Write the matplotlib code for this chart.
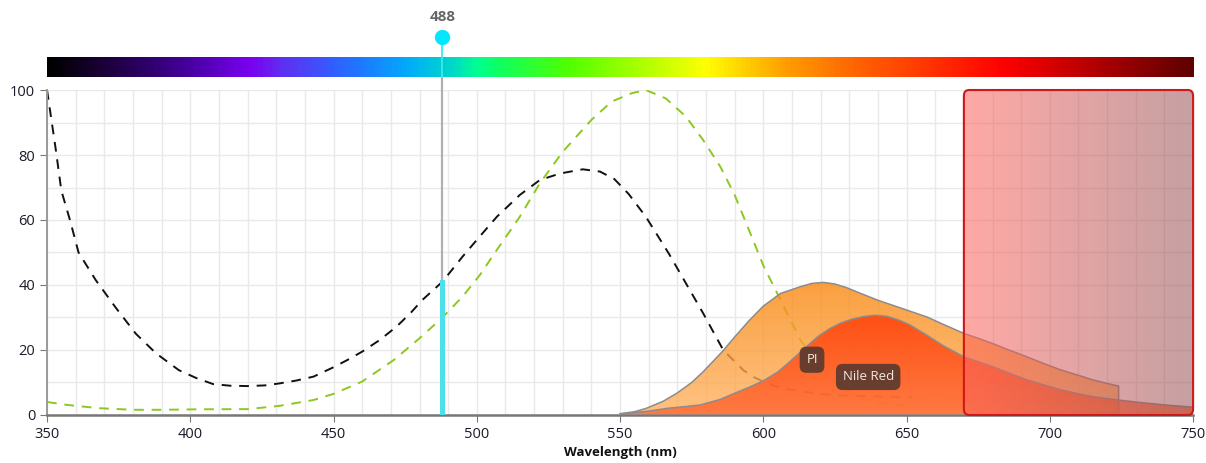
import matplotlib
matplotlib.use("Agg")
import matplotlib.pyplot as plt
import numpy as np
from matplotlib.colors import LinearSegmentedColormap
from matplotlib.patches import Polygon, FancyBboxPatch

plt.rcParams['font.family'] = ['Open Sans', 'DejaVu Sans']

# excitation spectra (dashed)
pi_ex_nm = [350, 352, 353, 355, 358, 361, 367, 374, 381, 388, 396, 402, 408, 414, 420, 426,
            431, 437, 443, 450, 455, 460, 466, 472, 477, 481, 488, 495, 501, 507, 515, 522,
            529, 537, 543, 548, 553, 559, 567, 573, 579, 586, 593, 597, 602, 607, 612, 618, 624,
            630, 640, 648, 652]
pi_ex = [100, 88, 82, 69, 60, 50, 41.5, 33, 25, 19, 13.8, 11.4, 9.5, 9.0, 8.9, 9.1,
         9.7, 10.6, 11.8, 14.7, 17, 19.5, 23, 27.2, 31.5, 35.4, 41, 48.7, 54.9, 61, 67.7, 72.3,
         74.3, 75.6, 74.9, 72.6, 68, 61, 49.7, 40.5, 31.3, 20, 13.8, 11.5, 9.5, 8.2, 7.4, 6.7, 6.2,
         5.9, 5.7, 5.6, 5.6]

nr_ex_nm = [350, 357, 368, 380, 390, 403, 420, 431, 443, 450, 460, 471, 480, 488, 495, 501,
            507, 515, 522, 530, 540, 547, 554, 559, 566, 573, 579, 585, 590, 595, 600, 606, 613, 620,
            627, 634, 643, 650]
nr_ex = [4, 3.1, 2.1, 1.6, 1.6, 1.75, 1.8, 2.8, 4.6, 6.5, 10.3, 16.9, 23.6, 30, 36.4, 43,
         50.8, 61, 71.3, 81, 90.8, 96.4, 99, 100, 97.4, 91.8, 84.6, 76.4, 67.7, 56.9, 46, 35.4, 23, 14.9,
         8.7, 5.1, 3.4, 2.8]

# emission spectra (filled)
pi_em_nm = [550, 555, 559, 565, 570, 575, 579, 583, 586, 590, 595, 600, 606, 613, 617, 621, 625,
            629, 634, 640, 645, 651, 657, 663, 670, 675, 680, 686, 692, 698, 704, 710, 715, 720, 724]
pi_em = [0.4, 1, 2, 4.2, 6.8, 10, 13.3, 17, 19.8, 24, 29, 33.5, 37.4, 39.5, 40.5, 40.8, 40.3,
         39.2, 37.4, 35.3, 33.8, 32, 30.2, 27.8, 25.1, 23.6, 22, 19.9, 17.9, 15.8, 13.8, 12.2, 10.8, 9.7, 8.9]

nr_em_nm = [550, 560, 567, 573, 578, 585, 590, 595, 600, 605, 609, 614, 619, 623, 627, 631, 635,
            639, 643, 647, 651, 657, 663, 670, 675, 680, 686, 692, 698, 704, 710, 715, 724, 731, 740, 750]
nr_em = [0.3, 1.2, 2.1, 2.6, 3.1, 4.8, 6.7, 8.5, 10.5, 13.2, 16.2, 20.2, 24.1, 26.5, 28.3, 29.5, 30.3,
         30.7, 30.4, 29.3, 27.8, 24.6, 21.2, 17.9, 16.4, 14.9, 12.8, 10.8, 9.2, 7.7, 6.5, 5.6, 4.6, 3.9, 3.1, 2.4]

laser_nm = 488
laser_top = 41
filter_range = (670, 750)

spec_nm = [350, 368, 386, 403, 420, 432, 450, 467, 477, 491, 500, 508, 532, 580, 607, 634, 652, 684, 750]
spec_col = ['#000000', '#1a0035', '#300070', '#5000b0', '#7a00f0', '#6030f0', '#3060ff', '#1090ff',
            '#00b0f8', '#00d8c8', '#00ff90', '#10ff60', '#50ff00', '#ffff00', '#ffa000', '#ff6000',
            '#ff4000', '#ff0000', '#600000']

fig = plt.figure(figsize=(12.06, 4.63), dpi=100)
ax = fig.add_axes([0.039, 0.1037, 0.9503, 0.7019])
cax = fig.add_axes([0.039, 0.8337, 0.9503, 0.0432])
ax.set_zorder(2)
ax.patch.set_alpha(0)

# spectrum bar
spec_cmap = LinearSegmentedColormap.from_list(
    'spec', list(zip([(n - 350) / 400 for n in spec_nm], spec_col)))
cax.imshow(np.linspace(350, 750, 1000)[None, :], extent=[350, 750, 0, 1], aspect='auto',
           cmap=spec_cmap, vmin=350, vmax=750)
cax.set_xlim(350, 750)
cax.axis('off')


def gradient_fill(x, y, c_bottom, c_top, alpha, z):
    verts = [(x[0], 0)] + list(zip(x, y)) + [(x[-1], 0)]
    poly = Polygon(verts, closed=True, facecolor='none', edgecolor='#8c8c8c', lw=1.1, zorder=z + 0.1)
    ax.add_patch(poly)
    cm = LinearSegmentedColormap.from_list('g', [c_bottom, c_top])
    im = ax.imshow(np.linspace(0, 1, 256)[:, None], extent=[x[0], x[-1], 0, max(y)], origin='lower',
                   aspect='auto', cmap=cm, alpha=alpha, zorder=z)
    im.set_clip_path(poly)


ax.plot(pi_ex_nm, pi_ex, color='#111111', lw=1.4, ls=(0, (5, 4)), zorder=2.5)
ax.plot(nr_ex_nm, nr_ex, color='#8cc820', lw=1.4, ls=(0, (5, 4)), zorder=2.5)

gradient_fill(pi_em_nm, pi_em, '#ffb364', '#fa8810', 0.8, 3)
gradient_fill(nr_em_nm, nr_em, '#ff6832', '#ff3a05', 0.8, 4)

# emission filter
f0, f1 = filter_range
fbox = FancyBboxPatch((f0, 0), f1 - f0, 100, boxstyle='round,pad=0,rounding_size=1.8',
                      facecolor='none', edgecolor='#d01818', lw=1.5, zorder=5.1, clip_on=False)
ax.add_patch(fbox)
fcm = LinearSegmentedColormap.from_list('f', [(1.0, 0.39, 0.36), (0.59, 0.32, 0.34)])
fim = ax.imshow(np.linspace(0, 1, 256)[None, :], extent=[f0, f1, 0, 100], aspect='auto',
                cmap=fcm, alpha=0.55, zorder=5)
fim.set_clip_path(fbox)

# laser line
ax.plot([laser_nm, laser_nm], [laser_top, 104], color='#b0b0b0', lw=1.6, zorder=4.5, clip_on=False)
ax.plot([laser_nm, laser_nm], [0, laser_top], color='#4ee0ea', lw=3.6, zorder=4.6)
ax.plot([laser_nm, laser_nm], [104, 116.3], color='#40e8f0', lw=1.3, zorder=4.6, clip_on=False)
ax.plot([laser_nm], [116.3], 'o', ms=10, color='#00e8ff', zorder=4.7, clip_on=False)
ax.text(laser_nm, 122.5, str(laser_nm), ha='center', va='center', fontsize=11, fontweight='bold',
        color='#666666', clip_on=False)

# dye labels
box_style = dict(boxstyle='round,pad=0.5', fc='#5b3a2e', ec='none', alpha=0.92)
ax.text(617, 17, 'PI', ha='center', va='center', color='#f2e8e2', fontsize=9.5, bbox=box_style, zorder=7)
ax.text(636.6, 11.7, 'Nile Red', ha='center', va='center', color='#f2e8e2', fontsize=9.5,
        bbox=box_style, zorder=7)

ax.set_xlim(350, 750)
ax.set_ylim(0, 100)
ax.set_xticks(np.arange(350, 751, 50))
ax.set_yticks(np.arange(0, 101, 20))
ax.set_xticks(np.arange(350, 751, 10), minor=True)
ax.set_yticks(np.arange(0, 101, 10), minor=True)
ax.grid(which='both', color='#e9e9e9', lw=1, zorder=0)
ax.set_axisbelow(True)
ax.tick_params(which='minor', length=0)
ax.tick_params(which='major', direction='out', length=5, color='#777777', labelsize=10.5,
               labelcolor='#1a1a2a')
for s in ['top', 'right']:
    ax.spines[s].set_visible(False)
ax.spines['left'].set_color('#999999')
ax.spines['left'].set_linewidth(1.4)
ax.spines['bottom'].set_color('#777777')
ax.spines['bottom'].set_linewidth(1.8)
ax.set_xlabel('Wavelength (nm)', fontsize=9.5, fontweight='bold', labelpad=3, color='#111111')

fig.savefig('out.png', dpi=100)
